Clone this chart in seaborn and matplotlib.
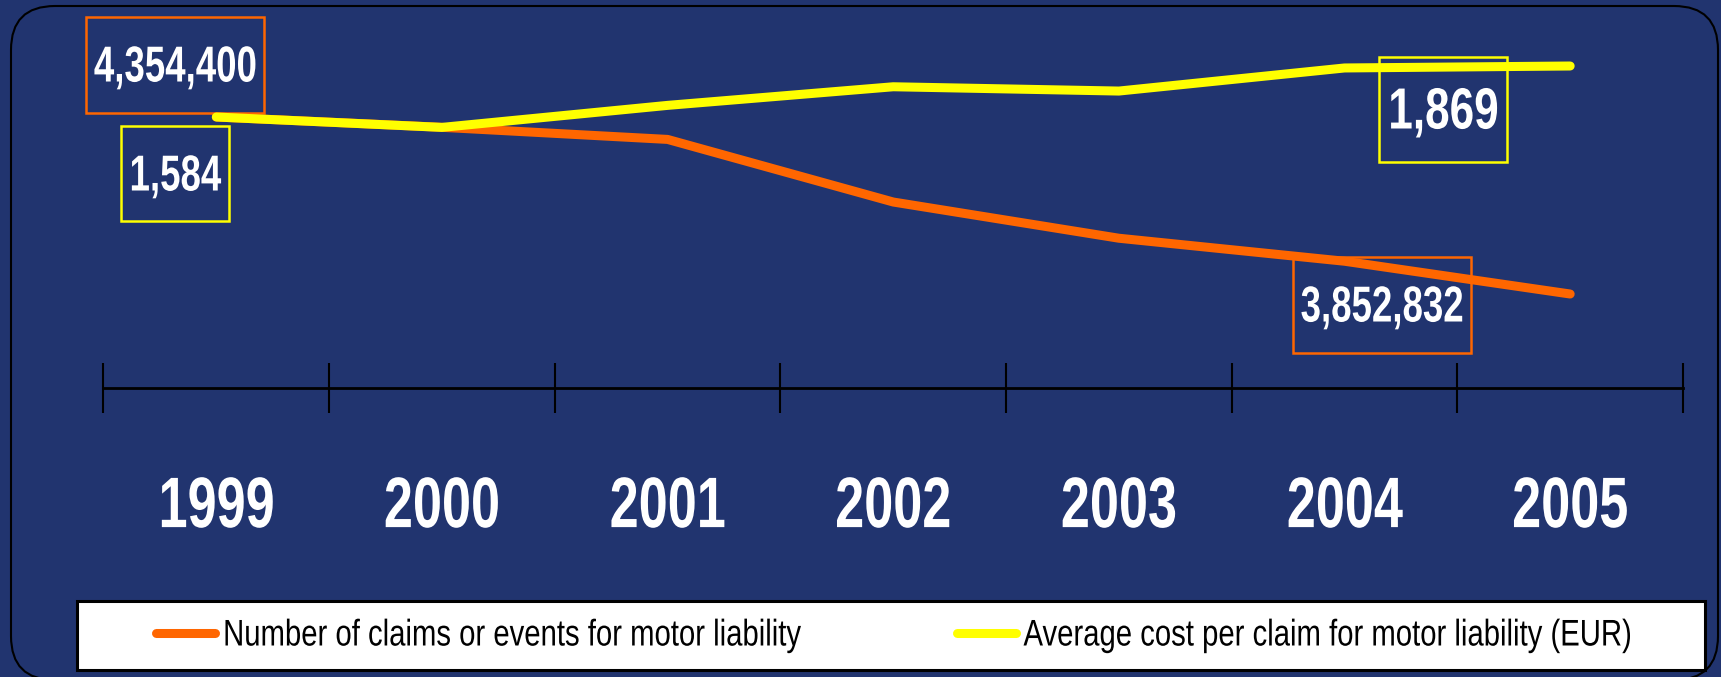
import numpy as np
import pandas as pd
import matplotlib
matplotlib.use('Agg')
import matplotlib.pyplot as plt
import seaborn as sns
from matplotlib.path import Path
from matplotlib.patches import FancyBboxPatch, Rectangle
from matplotlib.lines import Line2D
from matplotlib.patheffects import AbstractPathEffect
from matplotlib.transforms import Affine2D, Bbox

# ---- data ----
years = ['1999', '2000', '2001', '2002', '2003', '2004', '2005']
claims = [4354400, 4325200, 4290900, 4113500, 4010900, 3945700, 3852832]
avg_cost = [1584, 1526, 1649, 1753, 1729, 1858, 1869]
claims_label = 'Number of claims or events for motor liability'
cost_label = 'Average cost per claim for motor liability (EUR)'

sns.set_theme(style='white')
plt.rcParams['font.family'] = ['Liberation Sans', 'DejaVu Sans']

BG = '#21346F'
ORANGE = '#FF6600'
YELLOW = '#FFFF00'
LW = 6.5


class Condense(AbstractPathEffect):
    """Horizontally condense text glyphs (narrow typeface look)."""

    def __init__(self, sx, anchor='center'):
        super().__init__()
        self.sx = sx
        self.anchor = anchor

    def draw_path(self, renderer, gc, tpath, affine, rgbFace=None):
        ext = affine.transform_path(tpath).get_extents()
        cx = ext.x0 if self.anchor == 'left' else (ext.x0 + ext.x1) / 2
        aff = affine + Affine2D().translate(-cx, 0).scale(self.sx, 1).translate(cx, 0)
        renderer.draw_path(gc, tpath, aff, rgbFace)


def condense(t, sx, anchor='center'):
    t.set_path_effects([Condense(sx, anchor)])
    orig = t.get_window_extent

    def gwe(*args, **kwargs):
        bb = orig(*args, **kwargs)
        if anchor == 'left':
            x0 = bb.x0
        else:
            x0 = (bb.x0 + bb.x1) / 2 - bb.width * sx / 2
        return Bbox.from_extents(x0, bb.y0, x0 + bb.width * sx, bb.y1)

    t.get_window_extent = gwe


W, H = 1721, 677
fig = plt.figure(figsize=(W / 100, H / 100), dpi=100, facecolor=BG)

# background frame + legend panel (pixel coordinates)
bg = fig.add_axes([0, 0, 1, 1])
bg.set_xlim(0, W)
bg.set_ylim(H, 0)
bg.axis('off')
bg.add_patch(FancyBboxPatch((11, 6), 1707, 674,
                            boxstyle='round,pad=0,rounding_size=44',
                            fc=BG, ec='black', lw=1.5))
bg.add_patch(Rectangle((77, 601), 1628, 69, fc='white', ec='black', lw=2.2))

# main axes
ax = fig.add_axes([103.5 / W, 1 - 388 / H, (1683 - 103.5) / W, (388 - 11) / H])
ax.patch.set_alpha(0)
x = np.arange(len(years))
df = pd.DataFrame({'x': x, 'claims': claims, 'cost': avg_cost})

sns.lineplot(data=df, x='x', y='claims', ax=ax, color=ORANGE, lw=LW,
             solid_capstyle='round')
ax2 = ax.twinx()
sns.lineplot(data=df, x='x', y='cost', ax=ax2, color=YELLOW, lw=LW,
             solid_capstyle='round')

ax.set_xlim(-0.5, len(years) - 0.5)
ax.set_ylim(3586500, 4654800)
ax2.set_ylim(69.9, 2176.3)

ax.set_xticks(np.arange(len(years) + 1) - 0.5)
ax.set_xticklabels([])
ax.set_xticks(x, minor=True)
ax.set_xticklabels(years, minor=True)
ax.tick_params(axis='x', which='major', direction='inout', length=36,
               width=1.5, color='black', bottom=True)
ax.tick_params(axis='x', which='minor', length=0, pad=62, labelsize=51.5,
               labelcolor='white', bottom=True)
for lbl in ax.get_xticklabels(minor=True):
    lbl.set_fontweight('bold')
    condense(lbl, 0.73)
ax.set_yticks([])
ax2.set_yticks([])
for s in ['top', 'left', 'right']:
    ax.spines[s].set_visible(False)
ax.spines['bottom'].set_color('black')
ax.spines['bottom'].set_linewidth(2)
for s in ax2.spines.values():
    s.set_visible(False)
ax.set_xlabel('')
ax.set_ylabel('')
ax2.set_ylabel('')


def box(bw, bh, dy=0.065):
    """Fixed-size rectangle (in font-size units) centred on the text."""
    def f(x0, y0, w, h, ms):
        cx = x0 + w / 2
        cy = y0 + h / 2 + dy * ms
        hw, hh = bw * ms / 2, bh * ms / 2
        verts = [(cx - hw, cy - hh), (cx + hw, cy - hh), (cx + hw, cy + hh),
                 (cx - hw, cy + hh), (cx - hw, cy - hh)]
        codes = [Path.MOVETO, Path.LINETO, Path.LINETO, Path.LINETO,
                 Path.CLOSEPOLY]
        return Path(verts, codes)
    return f


def label(axis, i, v, off, color, fs, bw, bh, sx):
    t = axis.annotate(f'{v:,}', xy=(i, v), xytext=off,
                      textcoords='offset pixels', ha='center', va='center',
                      color='white', fontsize=fs, fontweight='bold', zorder=5,
                      bbox=dict(boxstyle=box(bw, bh), fc='none', ec=color,
                                lw=1.8))
    condense(t, sx)


last = len(years) - 1
label(ax, 0, claims[0], (-41, 49), ORANGE, 36.4, 3.52, 1.90, 0.725)
label(ax, last, claims[-1], (-188, -14), ORANGE, 36.4, 3.52, 1.89, 0.725)
label(ax2, 0, avg_cost[0], (-41.5, -60), YELLOW, 36.4, 2.13, 1.89, 0.725)
label(ax2, last, avg_cost[-1], (-127, -47.5), YELLOW, 41.8, 2.21, 1.81, 0.76)

for color, text, hx in [(ORANGE, claims_label, 155.7),
                        (YELLOW, cost_label, 956.7)]:
    h = Line2D([], [], color=color, lw=LW, solid_capstyle='round')
    leg = fig.legend([h], [text], loc='center left',
                     bbox_to_anchor=(hx / W, 1 - 636 / H), frameon=False,
                     fontsize=26.7, handlelength=1.6, handletextpad=0.2,
                     borderpad=0, borderaxespad=0, labelcolor='black')
    for t in leg.get_texts():
        condense(t, 0.79, anchor='left')

fig.savefig('out.png', dpi=100, facecolor=BG)
